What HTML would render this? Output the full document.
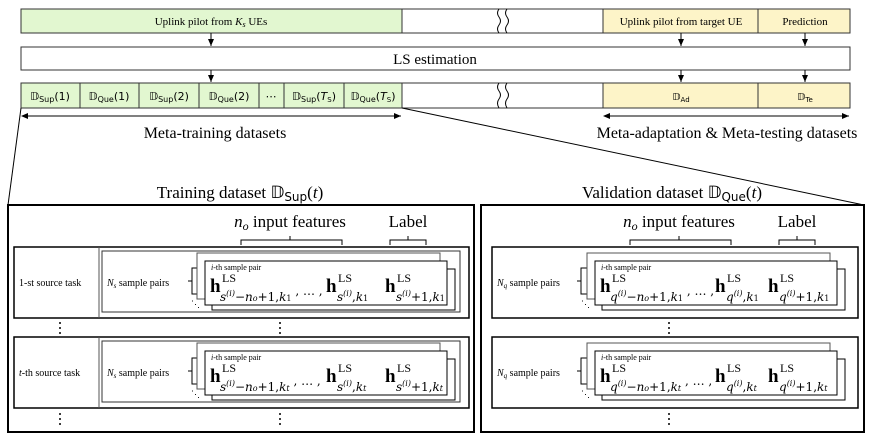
<!DOCTYPE html>
<html><head><meta charset="utf-8"><style>
body{margin:0;background:#fff}
svg{display:block;font-family:"Liberation Serif",serif}
</style></head><body>
<svg width="872" height="436" viewBox="0 0 872 436" xmlns="http://www.w3.org/2000/svg">
<defs>
<marker id="ar" markerWidth="8" markerHeight="8" refX="7" refY="4" orient="auto" markerUnits="userSpaceOnUse"><path d="M0,1 L7,4 L0,7 z" fill="#000"/></marker>
<marker id="al" markerWidth="8" markerHeight="8" refX="1" refY="4" orient="auto" markerUnits="userSpaceOnUse"><path d="M7,1 L0,4 L7,7 z" fill="#000"/></marker>
<g id="card">
  <rect x="0" y="0" width="243" height="46" fill="#fff" stroke="#555" stroke-width="1"/>
  <rect x="15" y="16" width="243" height="41" fill="#fff" stroke="#000" stroke-width="1"/>
  <rect x="8" y="8" width="242" height="44" fill="#fff" stroke="#000" stroke-width="1"/>
  <text x="-6" y="54" font-size="9">⋱</text>
</g>
</defs>
<g stroke="#333" stroke-width="1">
<rect x="21" y="9" width="381" height="24" fill="#e2f7d0"/>
<rect x="402" y="9" width="201" height="24" fill="#fff"/>
<rect x="603" y="9" width="155" height="24" fill="#fdf4c8"/>
<rect x="758" y="9" width="92" height="24" fill="#fdf4c8"/>
<rect x="21" y="47" width="829" height="23" fill="#fff"/>
<rect x="21" y="83" width="59" height="25" fill="#e2f7d0"/>
<rect x="80" y="83" width="59" height="25" fill="#e2f7d0"/>
<rect x="139" y="83" width="60" height="25" fill="#e2f7d0"/>
<rect x="199" y="83" width="60" height="25" fill="#e2f7d0"/>
<rect x="259" y="83" width="25" height="25" fill="#e2f7d0"/>
<rect x="284" y="83" width="60" height="25" fill="#e2f7d0"/>
<rect x="344" y="83" width="58" height="25" fill="#e2f7d0"/>
<rect x="402" y="83" width="201" height="25" fill="#fff"/>
<rect x="603" y="83" width="155" height="25" fill="#fdf4c8"/>
<rect x="758" y="83" width="92" height="25" fill="#fdf4c8"/>
</g>
<g fill="none" stroke="#000" stroke-width="1">
<path d="M499,9 q-3,4 0,8 q3,4 0,8 q-3,4 0,8 M507,9 q-3,4 0,8 q3,4 0,8 q-3,4 0,8"/>
<path d="M499,83 q-3,4 0,8 q3,4 0,8 q-3,4 0,9 M507,83 q-3,4 0,8 q3,4 0,8 q-3,4 0,9"/>
<line x1="211" y1="33" x2="211" y2="46" marker-end="url(#ar)"/>
<line x1="211" y1="70" x2="211" y2="82" marker-end="url(#ar)"/>
<line x1="681" y1="33" x2="681" y2="46" marker-end="url(#ar)"/>
<line x1="681" y1="70" x2="681" y2="82" marker-end="url(#ar)"/>
<line x1="805" y1="33" x2="805" y2="46" marker-end="url(#ar)"/>
<line x1="805" y1="70" x2="805" y2="82" marker-end="url(#ar)"/>
<line x1="22" y1="116" x2="401" y2="116" marker-start="url(#al)" marker-end="url(#ar)"/>
<line x1="604" y1="116" x2="849" y2="116" marker-start="url(#al)" marker-end="url(#ar)"/>
<line x1="21" y1="108" x2="8" y2="205"/>
<line x1="402" y1="108" x2="864" y2="205"/>
</g>
<g font-size="11" text-anchor="middle">
<text x="211" y="25">Uplink pilot from <tspan font-style="italic">K</tspan><tspan font-size="8" dy="2" font-style="italic">s</tspan><tspan dy="-2"> UEs</tspan></text>
<text x="681" y="25">Uplink pilot from target UE</text>
<text x="805" y="25">Prediction</text>
</g>
<text x="435" y="64" font-size="15" text-anchor="middle">LS estimation</text>
<g font-size="11" text-anchor="middle" font-family="DejaVu Sans">
<text x="50" y="100">𝔻<tspan font-size="8" dy="2">Sup</tspan><tspan dy="-2">(1)</tspan></text>
<text x="109" y="100">𝔻<tspan font-size="8" dy="2">Que</tspan><tspan dy="-2">(1)</tspan></text>
<text x="169" y="100">𝔻<tspan font-size="8" dy="2">Sup</tspan><tspan dy="-2">(2)</tspan></text>
<text x="229" y="100">𝔻<tspan font-size="8" dy="2">Que</tspan><tspan dy="-2">(2)</tspan></text>
<text x="271" y="100">⋯</text>
<text x="314" y="100">𝔻<tspan font-size="8" dy="2">Sup</tspan><tspan dy="-2">(</tspan><tspan font-style="italic">T</tspan><tspan font-size="7" dy="2">S</tspan><tspan dy="-2">)</tspan></text>
<text x="373" y="100">𝔻<tspan font-size="8" dy="2">Que</tspan><tspan dy="-2">(</tspan><tspan font-style="italic">T</tspan><tspan font-size="7" dy="2">S</tspan><tspan dy="-2">)</tspan></text>
<text x="681" y="100" font-size="10">𝔻<tspan font-size="7" dy="2">Ad</tspan></text>
<text x="805" y="100" font-size="10">𝔻<tspan font-size="7" dy="2">Te</tspan></text>
</g>
<g font-size="16" text-anchor="middle">
<text x="215" y="138">Meta-training datasets</text>
<text x="727" y="138">Meta-adaptation &amp; Meta-testing datasets</text>
</g>
<g font-size="17" text-anchor="middle">
<text x="240" y="198">Training dataset 𝔻<tspan font-size="12" dy="3" font-family="DejaVu Sans">Sup</tspan><tspan dy="-3">(</tspan><tspan font-style="italic">t</tspan>)</text>
<text x="672" y="198">Validation dataset 𝔻<tspan font-size="12" dy="3" font-family="DejaVu Sans">Que</tspan><tspan dy="-3">(</tspan><tspan font-style="italic">t</tspan>)</text>
</g>
<g fill="none" stroke="#000">
<rect x="8" y="205" width="466" height="227" stroke-width="2"/>
<rect x="481" y="205" width="383" height="227" stroke-width="2"/>
<rect x="14" y="247" width="455" height="71" stroke-width="1.5"/>
<rect x="14" y="337" width="455" height="71" stroke-width="1.5"/>
<rect x="492" y="247" width="366" height="71" stroke-width="1.5"/>
<rect x="492" y="337" width="366" height="71" stroke-width="1.5"/>
<rect x="102" y="251" width="358" height="61" stroke="#333"/>
<rect x="102" y="341" width="358" height="61" stroke="#333"/>
<line x1="99" y1="247" x2="99" y2="318" stroke="#555"/>
<line x1="99" y1="337" x2="99" y2="408" stroke="#555"/>
<path d="M241,245 v-5 h49 v-4 M290,236 v4 h52 v5 M390,245 v-5 h18 v-4 M408,236 v4 h18 v5"/>
<path d="M630,245 v-5 h49 v-4 M679,236 v4 h52 v5 M779,245 v-5 h18 v-4 M797,236 v4 h18 v5"/>
<path d="M198,268 h-6 v13 h-4 h4 v13 h6"/><path d="M198,358 h-6 v13 h-4 h4 v13 h6"/>
<path d="M587,268 h-6 v13 h-4 h4 v13 h6"/><path d="M587,358 h-6 v13 h-4 h4 v13 h6"/>
</g>
<use href="#card" x="197" y="253"/>
<use href="#card" x="197" y="343"/>
<use href="#card" x="587" y="253"/>
<use href="#card" x="587" y="343"/>
<g font-size="17" text-anchor="middle">
<text x="290" y="227"><tspan font-style="italic">n</tspan><tspan font-size="12" dy="3" font-style="italic">o</tspan><tspan dy="-3"> input features</tspan></text>
<text x="408" y="227">Label</text>
<text x="679" y="227"><tspan font-style="italic">n</tspan><tspan font-size="12" dy="3" font-style="italic">o</tspan><tspan dy="-3"> input features</tspan></text>
<text x="797" y="227">Label</text>
</g>
<g font-size="10">
<text x="19" y="286">1-st source task</text>
<text x="19" y="376"><tspan font-style="italic">t</tspan>-th source task</text>
<text x="107" y="286"><tspan font-style="italic">N</tspan><tspan font-size="7" dy="2" font-style="italic">s</tspan><tspan dy="-2"> sample pairs</tspan></text>
<text x="107" y="376"><tspan font-style="italic">N</tspan><tspan font-size="7" dy="2" font-style="italic">s</tspan><tspan dy="-2"> sample pairs</tspan></text>
<text x="497" y="286"><tspan font-style="italic">N</tspan><tspan font-size="7" dy="2" font-style="italic">q</tspan><tspan dy="-2"> sample pairs</tspan></text>
<text x="497" y="376"><tspan font-style="italic">N</tspan><tspan font-size="7" dy="2" font-style="italic">q</tspan><tspan dy="-2"> sample pairs</tspan></text>
</g>
<g font-size="8">
<text x="211" y="270"><tspan font-style="italic">i</tspan>-th sample pair</text>
<text x="211" y="360"><tspan font-style="italic">i</tspan>-th sample pair</text>
<text x="601" y="270"><tspan font-style="italic">i</tspan>-th sample pair</text>
<text x="601" y="360"><tspan font-style="italic">i</tspan>-th sample pair</text>
</g>
<g font-size="19" font-weight="bold">
<text x="210" y="292">h</text><text x="326" y="292">h</text><text x="385" y="292">h</text>
<text x="210" y="382">h</text><text x="326" y="382">h</text><text x="385" y="382">h</text>
<text x="600" y="292">h</text><text x="715" y="292">h</text><text x="768" y="292">h</text>
<text x="600" y="382">h</text><text x="715" y="382">h</text><text x="768" y="382">h</text>
</g>
<g font-size="12">
<text x="222" y="282">LS</text><text x="338" y="282">LS</text><text x="397" y="282">LS</text>
<text x="222" y="372">LS</text><text x="338" y="372">LS</text><text x="397" y="372">LS</text>
<text x="612" y="282">LS</text><text x="727" y="282">LS</text><text x="780" y="282">LS</text>
<text x="612" y="372">LS</text><text x="727" y="372">LS</text><text x="780" y="372">LS</text>
</g>
<g font-size="12" font-family="DejaVu Serif, serif">
<text x="220" y="301"><tspan font-style="italic">s</tspan><tspan font-size="8" dy="-5" font-style="italic">(i)</tspan><tspan dy="5">−</tspan><tspan font-style="italic">n</tspan><tspan font-size="8" font-style="italic">o</tspan>+1,<tspan font-style="italic">k</tspan><tspan font-size="8">1</tspan><tspan dy="-6"> , … ,</tspan></text>
<text x="337" y="301"><tspan font-style="italic">s</tspan><tspan font-size="8" dy="-5" font-style="italic">(i)</tspan><tspan dy="5">,</tspan><tspan font-style="italic">k</tspan><tspan font-size="8">1</tspan></text>
<text x="396" y="301"><tspan font-style="italic">s</tspan><tspan font-size="8" dy="-5" font-style="italic">(i)</tspan><tspan dy="5">+1,</tspan><tspan font-style="italic">k</tspan><tspan font-size="8">1</tspan></text>
<text x="220" y="391"><tspan font-style="italic">s</tspan><tspan font-size="8" dy="-5" font-style="italic">(i)</tspan><tspan dy="5">−</tspan><tspan font-style="italic">n</tspan><tspan font-size="8" font-style="italic">o</tspan>+1,<tspan font-style="italic">k</tspan><tspan font-size="8" font-style="italic">t</tspan><tspan dy="-6"> , … ,</tspan></text>
<text x="337" y="391"><tspan font-style="italic">s</tspan><tspan font-size="8" dy="-5" font-style="italic">(i)</tspan><tspan dy="5">,</tspan><tspan font-style="italic">k</tspan><tspan font-size="8" font-style="italic">t</tspan></text>
<text x="396" y="391"><tspan font-style="italic">s</tspan><tspan font-size="8" dy="-5" font-style="italic">(i)</tspan><tspan dy="5">+1,</tspan><tspan font-style="italic">k</tspan><tspan font-size="8" font-style="italic">t</tspan></text>
<text x="610" y="301"><tspan font-style="italic">q</tspan><tspan font-size="8" dy="-5" font-style="italic">(i)</tspan><tspan dy="5">−</tspan><tspan font-style="italic">n</tspan><tspan font-size="8" font-style="italic">o</tspan>+1,<tspan font-style="italic">k</tspan><tspan font-size="8">1</tspan><tspan dy="-6"> , … ,</tspan></text>
<text x="726" y="301"><tspan font-style="italic">q</tspan><tspan font-size="8" dy="-5" font-style="italic">(i)</tspan><tspan dy="5">,</tspan><tspan font-style="italic">k</tspan><tspan font-size="8">1</tspan></text>
<text x="779" y="301"><tspan font-style="italic">q</tspan><tspan font-size="8" dy="-5" font-style="italic">(i)</tspan><tspan dy="5">+1,</tspan><tspan font-style="italic">k</tspan><tspan font-size="8">1</tspan></text>
<text x="610" y="391"><tspan font-style="italic">q</tspan><tspan font-size="8" dy="-5" font-style="italic">(i)</tspan><tspan dy="5">−</tspan><tspan font-style="italic">n</tspan><tspan font-size="8" font-style="italic">o</tspan>+1,<tspan font-style="italic">k</tspan><tspan font-size="8" font-style="italic">t</tspan><tspan dy="-6"> , … ,</tspan></text>
<text x="726" y="391"><tspan font-style="italic">q</tspan><tspan font-size="8" dy="-5" font-style="italic">(i)</tspan><tspan dy="5">,</tspan><tspan font-style="italic">k</tspan><tspan font-size="8" font-style="italic">t</tspan></text>
<text x="779" y="391"><tspan font-style="italic">q</tspan><tspan font-size="8" dy="-5" font-style="italic">(i)</tspan><tspan dy="5">+1,</tspan><tspan font-style="italic">k</tspan><tspan font-size="8" font-style="italic">t</tspan></text>
</g>
<g fill="#000">
<circle cx="60" cy="323" r="1"/><circle cx="60" cy="328" r="1"/><circle cx="60" cy="333" r="1"/>
<circle cx="280" cy="323" r="1"/><circle cx="280" cy="328" r="1"/><circle cx="280" cy="333" r="1"/>
<circle cx="60" cy="414" r="1"/><circle cx="60" cy="419" r="1"/><circle cx="60" cy="424" r="1"/>
<circle cx="280" cy="414" r="1"/><circle cx="280" cy="419" r="1"/><circle cx="280" cy="424" r="1"/>
<circle cx="669" cy="323" r="1"/><circle cx="669" cy="328" r="1"/><circle cx="669" cy="333" r="1"/>
<circle cx="669" cy="414" r="1"/><circle cx="669" cy="419" r="1"/><circle cx="669" cy="424" r="1"/>
</g>
</svg>
</body></html>
